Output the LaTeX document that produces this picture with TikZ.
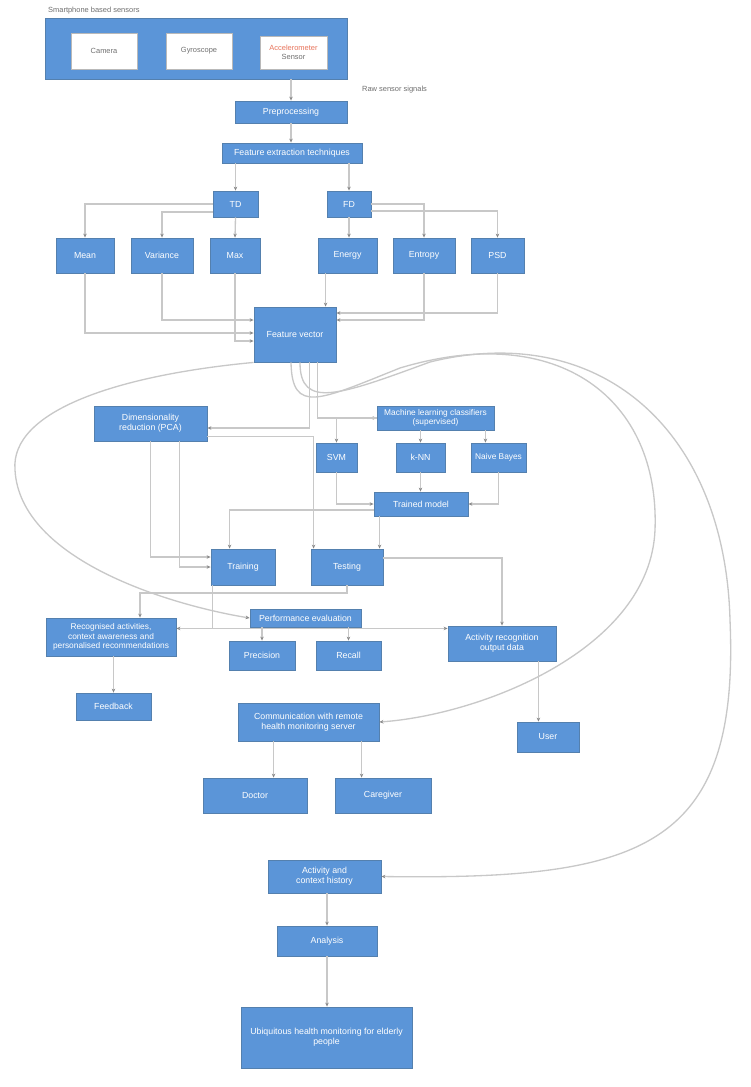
\documentclass[tikz,border=0pt]{standalone}
\usepackage{fontspec}
\setmainfont{Liberation Sans}
\usetikzlibrary{calc,arrows.meta}
\definecolor{boxblue}{HTML}{5B95D8}
\definecolor{boxedge}{HTML}{5480AE}
\definecolor{linegray}{HTML}{C8C8C8}
\definecolor{tipgray}{HTML}{8A8A8A}
\definecolor{capgray}{HTML}{707070}
\definecolor{coral}{HTML}{E8735A}
\begin{document}
\begin{tikzpicture}[x=0.4mm,y=-0.4mm,
  box/.style={draw=boxedge, line width=1pt, fill=boxblue, text=white,
    font=\fontsize{10}{11.5}\selectfont, align=center, inner sep=1pt},
  wbox/.style={draw=gray!55, line width=0.6pt, fill=white, text=capgray,
    font=\fontsize{8.5}{10}\selectfont, align=center, inner sep=1pt},
  wh/.style n args={2}{minimum width=#1*0.4mm, minimum height=#2*0.4mm},
  captext/.style={text=capgray, font=\fontsize{8.5}{10}\selectfont, inner sep=0pt},
  arr/.style={draw=linegray, line width=1.5pt, -{Stealth[length=4.5pt,width=4pt,color=tipgray]}},
  ln/.style={draw=linegray, line width=1.5pt}]
\useasboundingbox (0,0) rectangle (750,1087);
\fill[white] (0,0) rectangle (750,1087);

% top container
\node[captext, anchor=west] (topcap) at (48,11) {Smartphone based sensors};
\node[box, wh={302}{61}] (cont) at (196,48.5) {};
\node[wbox, wh={66}{36}] (s1) at (104,51) {Camera};
\node[wbox, wh={66}{36}] (s2) at (199,51) {Gyroscope};
\node[wbox, wh={67}{33}] (s3) at (293.5,52.5) {{\color{coral}Accelerometer}\\Sensor};
\node[captext, anchor=west] (rawcap) at (362,90) {Raw sensor signals};

% pipeline
\node[box, wh={112}{22}] (dc) at (291,112) {Preprocessing};
\node[box, wh={140}{20}] (fe) at (292,153) {Feature extraction techniques};
\node[box, wh={45}{26}] (td) at (235.5,204) {TD};
\node[box, wh={44}{26}] (fd) at (349,204) {FD};
\node[box, wh={58}{35}] (b1) at (85,255.5) {Mean};
\node[box, wh={62}{35}] (b2) at (162,255.5) {Variance};
\node[box, wh={50}{35}] (b3) at (235,255.5) {Max};
\node[box, wh={59}{35}] (b4) at (347.5,255.5) {Energy};
\node[box, wh={62}{35}] (b5) at (424,255.5) {Entropy};
\node[box, wh={53}{35}] (b6) at (497.5,255.5) {PSD};
\node[box, wh={82}{55}] (fv) at (295,334.5) {Feature vector};
\node[box, wh={113}{35}] (fs) at (150.5,423.5) {Dimensionality\\reduction (PCA)};
\node[box, wh={117}{24}, font=\fontsize{9.5}{10.5}\selectfont] (cl) at (435.5,418) {Machine learning classifiers\\(supervised)};
\node[box, wh={41}{29}] (c1) at (336.5,457.5) {SVM};
\node[box, wh={49}{29}] (c2) at (420.5,457.5) {k-NN};
\node[box, wh={55}{29}, font=\fontsize{9.5}{11}\selectfont] (c3) at (498.5,457.5) {Naive Bayes};
\node[box, wh={94}{24}] (tm) at (421,504) {Trained model};
\node[box, wh={64}{36}] (tr) at (243,567) {Training};
\node[box, wh={72}{36}] (te) at (347,567) {Testing};
\node[box, wh={111}{18}] (pe) at (305.5,618) {Performance evaluation};
\node[box, wh={130}{38}, font=\fontsize{9.5}{10.5}\selectfont] (dm) at (111,637) {Recognised activities,\\context awareness and\\personalised recommendations};
\node[box, wh={66}{29}] (pr) at (262,655.5) {Precision};
\node[box, wh={65}{29}] (re) at (348.5,655.5) {Recall};
\node[box, wh={108}{35}] (ao) at (502,643.5) {Activity recognition\\output data};
\node[box, wh={75}{27}] (fb) at (113.5,706.5) {Feedback};
\node[box, wh={62}{30}] (us) at (548,737) {User};
\node[box, wh={141}{38}] (cm) at (308.5,722) {Communication with remote\\health monitoring server};
\node[box, wh={104}{35}] (sv) at (255,795.5) {Doctor};
\node[box, wh={96}{35}] (cd) at (383,795.5) {Caregiver};
\node[box, wh={113}{33}] (ah) at (324.5,876.5) {Activity and\\context history};
\node[box, wh={100}{30}] (an) at (327,941) {Analysis};
\node[box, wh={171}{61}] (fin) at (326.5,1037.5) {Ubiquitous health monitoring for elderly\\people};

% helper coordinates
\coordinate (fvA) at ($(fv.south west)+(56,0)$);
\coordinate (fvB) at ($(fv.south west)+(64,0)$);
\coordinate (b4o) at ($(b4.south west)+(8,0)$);
\coordinate (fsA) at ($(fs.south)+(29,0)$);
\coordinate (fsE) at ($(fs.east)+(0,13)$);
\coordinate (teA) at ($(te.north west)+(3,0)$);
\coordinate (clC) at ($(cl.south east)+(-9,0)$);
\coordinate (tmW) at ($(tm.west)+(0,6)$);
\coordinate (trA) at ($(tr.north west)+(19,0)$);
\coordinate (tmS) at ($(tm.south west)+(6,0)$);
\coordinate (teE) at ($(te.east)+(0,-9)$);
\coordinate (j1) at (140,593);
\coordinate (trS) at ($(tr.south west)+(2,0)$);
\coordinate (j2) at ($(trS)+(0,43)$);
\coordinate (aoS) at ($(ao.south east)+(-18,0)$);
\coordinate (cmA) at ($(cm.south west)+(36,0)$);
\coordinate (cmB) at ($(cm.south west)+(124,0)$);

% connectors: top
\draw[arr] (dc.north |- cont.south) -- (dc.north);
\draw[arr] (dc.south) -- (dc.south |- fe.north);
\draw[arr] (td.north |- fe.south) -- (td.north);
\draw[arr] (fd.north |- fe.south) -- (fd.north);
\draw[arr] (td.west) -| (b1.north);
\draw[arr] ($(td.west)+(0,8)$) -| (b2.north);
\draw[arr] (td.south) -- (b3.north);
\draw[arr] (fd.south) -- (fd.south |- b4.north);
\draw[arr] (fd.east) -| (b5.north);
\draw[arr] ($(fd.east)+(0,7)$) -| (b6.north);
\draw[arr] (b1.south) |- ($(fv.west)+(0,-1.5)$);
\draw[arr] (b2.south) |- ($(fv.west)+(0,-14.5)$);
\draw[arr] (b3.south) |- ($(fv.west)+(0,6.5)$);
\draw[arr] (b4o) -- (b4o |- fv.north);
\draw[arr] (b5.south) |- ($(fv.east)+(0,-14.5)$);
\draw[arr] (b6.south) |- ($(fv.east)+(0,-21.5)$);

% from feature vector
\draw[arr] (fvA) |- ($(fs.east)+(0,4.5)$);
\draw[arr] (fvB) |- (cl.west);
\draw[arr] (fv.south west) .. controls (120,375) and (10,410) .. (15,470)
   .. controls (20,560) and (170,605) .. (pe.west);
\draw[arr] ($(fv.south)+(-4,0)$) .. controls (292,415) and (320,400) .. (400,368)
   .. controls (560,320) and (660,400) .. (655,530)
   .. controls (650,650) and (480,715) .. (cm.east);
\draw[arr] ($(fv.south)+(5,0)$) .. controls (300,410) and (340,395) .. (430,362)
   .. controls (600,320) and (725,430) .. (730,620)
   .. controls (740,850) and (640,880) .. (ah.east);

% classifiers
\draw[arr] (cl.west) -| (c1.north);
\draw[arr] (c2.north |- cl.south) -- (c2.north);
\draw[arr] (clC) -- (clC |- c3.north);
\draw[arr] (c1.south) |- (tm.west);
\draw[arr] (c2.south) -- (c2.south |- tm.north);
\draw[arr] (c3.south) |- (tm.east);

% reduction, training, testing
\draw[arr] (fs.south) |- ($(tr.west)+(0,-10)$);
\draw[arr] (fsA) |- (tr.west);
\draw[arr] (fsE) -| (teA);
\draw[arr] (tmW) -| (trA);
\draw[arr] (tmS) -- (tmS |- te.north);
\draw[arr] (teE) -| (ao.north);
\draw[arr] (te.south) |- (j1) -- (j1 |- dm.north);
\draw[ln] (trS) -- (j2);
\draw[arr] (j2) -- (j2 -| dm.east);
\draw[arr] (j2) -- (j2 -| ao.west);

% evaluation and outputs
\draw[arr] (pr.north |- pe.south) -- (pr.north);
\draw[arr] (re.north |- pe.south) -- (re.north);
\draw[arr] (fb.north |- dm.south) -- (fb.north);
\draw[arr] (aoS) -- (aoS |- us.north);
\draw[arr] (cmA) -- (cmA |- sv.north);
\draw[arr] (cmB) -- (cmB |- cd.north);
\draw[arr] (an.north |- ah.south) -- (an.north);
\draw[arr] (an.south) -- (an.south |- fin.north);
\end{tikzpicture}
\end{document}
